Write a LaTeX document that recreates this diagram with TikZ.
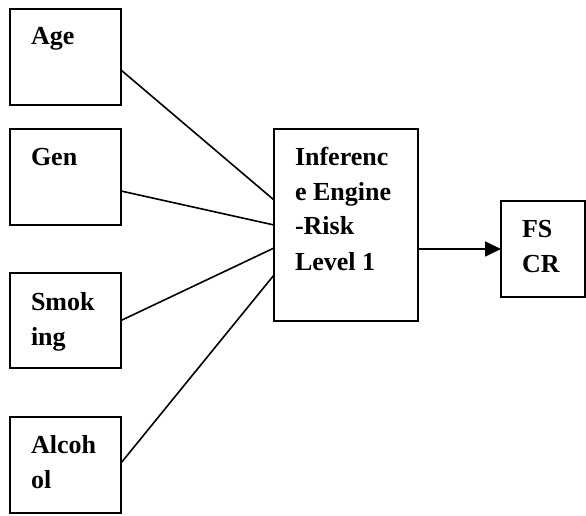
\documentclass[tikz,border=0pt]{standalone}
\usepackage{fontspec}
\setmainfont{Liberation Serif}
\usetikzlibrary{arrows.meta}
\begin{document}
\begin{tikzpicture}[x=1pt,y=-1pt,
  box/.style={draw,line width=1.9pt,rectangle,inner sep=0pt,anchor=north west},
  txt/.style={anchor=base west,inner sep=0pt,font=\fontsize{26}{35}\selectfont\bfseries},
  conn/.style={line width=1.6pt},
  every node/.append style={outer sep=0pt}]
\useasboundingbox (0,0) rectangle (586,516);
% boxes
\node[box,minimum width=111pt,minimum height=96pt] (age) at (10,9) {};
\node[box,minimum width=111pt,minimum height=96pt] (gen) at (10,129) {};
\node[box,minimum width=111pt,minimum height=95pt] (smk) at (10,273) {};
\node[box,minimum width=111pt,minimum height=96pt] (alc) at (10,417) {};
\node[box,minimum width=144pt,minimum height=192pt] (inf) at (274,129) {};
\node[box,minimum width=84pt,minimum height=96pt] (fs) at (501,201) {};
% texts
\node[txt] (tage) at (31,45) {Age};
\node[txt] (tgen) at (31,165) {Gen};
\node[txt] (tsmk1) at (31,310) {Smok};
\node[txt] (tsmk2) at (31,345) {ing};
\node[txt] (talc1) at (31,453) {Alcoh};
\node[txt] (talc2) at (31,488) {ol};
\node[txt] (tinf1) at (295,165) {Inferenc};
\node[txt] (tinf2) at (295,200) {e Engine};
\node[txt] (tinf3) at (295,234) {-Risk};
\node[txt] (tinf4) at (295,270) {Level 1};
\node[txt] (tfs1) at (522,237) {FS};
\node[txt] (tfs2) at (522,272) {CR};
% connectors
\draw[conn] ([yshift=-13pt]age.east) -- ([yshift=25pt]inf.west);
\draw[conn] ([yshift=-14pt]gen.east) -- (inf.west);
\draw[conn] (smk.east) -- ([yshift=-23pt]inf.west);
\draw[conn] ([yshift=2pt]alc.east) -- ([yshift=-50pt]inf.west);
\draw[conn,-{Triangle[length=16pt,width=15pt]}] ([yshift=-24pt]inf.east) -- (fs.west);
\end{tikzpicture}
\end{document}
